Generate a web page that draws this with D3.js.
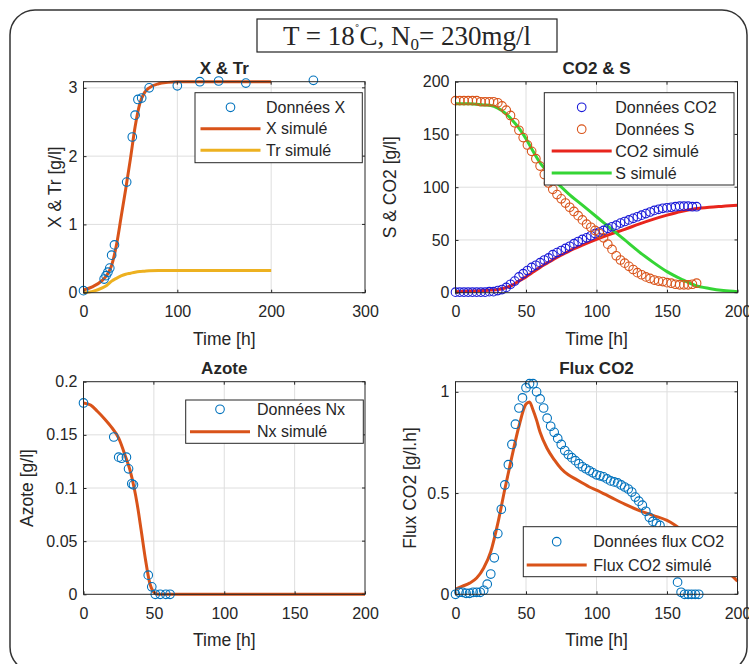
<!DOCTYPE html>
<html>
<head>
<meta charset="utf-8">
<script src="https://cdn.jsdelivr.net/npm/d3@7"></script>
<style>
  body { margin: 0; background: #fff; }
  svg text { font-family: "Liberation Sans", Arial, sans-serif; fill: #262626; }
</style>
</head>
<body>
<div id="chart"></div>
<script>
// ---- X & Tr ----
const xTime = [0, 22, 24, 26, 28, 30, 33, 46, 52, 55, 58, 62, 70, 100, 124, 144, 173, 245];
const xData = [0.03, 0.2, 0.25, 0.3, 0.36, 0.55, 0.7, 1.62, 2.28, 2.6, 2.83, 2.85, 3.0, 3.03, 3.09, 3.1, 3.07, 3.11];
const xSimTime = [0, 10, 20, 25, 30, 35, 40, 45, 50, 55, 60, 65, 70, 80, 90, 100, 150, 200];
const xSim = [0.04, 0.09, 0.18, 0.26, 0.4, 0.69, 1.1, 1.52, 1.96, 2.43, 2.77, 2.93, 3.0, 3.06, 3.08, 3.09, 3.09, 3.09];
const trSim = [0, 0.02, 0.07, 0.11, 0.17, 0.21, 0.245, 0.27, 0.285, 0.3, 0.31, 0.315, 0.32, 0.325, 0.325, 0.325, 0.325, 0.325];

// ---- CO2 & S ----
const csTime = [0, 3, 6, 9, 12, 15, 18, 21, 24, 27, 30, 33, 36, 39, 42, 45, 48, 51, 54, 57,
  60, 63, 66, 69, 72, 75, 78, 81, 84, 87, 90, 93, 96, 99, 102, 105, 108, 111, 114, 117,
  120, 123, 126, 129, 132, 135, 138, 141, 144, 147, 150, 153, 156, 159, 162, 165, 168, 171];
const co2Data = [0.5, 0.5, 0.5, 0.5, 0.5, 0.5, 0.5, 0.5, 1, 1, 2, 3, 5, 8, 11, 15, 18, 21, 24, 26,
  28.5, 31, 33, 36, 38, 40, 42, 44, 46.5, 48.5, 50.5, 52, 54, 56, 57.5, 59, 61, 62.5, 64, 66,
  67.5, 69, 70.5, 72, 73.5, 75, 76.5, 78, 79, 80, 80.5, 81, 81.5, 82, 82, 82, 81.5, 81.5];
const sData = [182, 182, 182, 182, 182, 182, 181, 181, 181, 181, 180, 177, 173, 168, 161, 154, 147, 140, 134, 127,
  120, 112, 104, 98, 93, 89, 85, 81, 77, 73, 69, 65, 62, 59, 56, 52, 46, 41, 35, 31,
  28, 25, 22, 19, 17, 15, 13.5, 12, 11, 10.5, 9.5, 9, 8, 7.5, 7.5, 7.5, 8, 9];
const csSimTime = [0, 10, 20, 25, 30, 35, 40, 45, 50, 55, 60, 65, 70, 80, 90, 100, 110, 120, 130, 140, 150, 160, 170, 180, 190, 200];
const co2Sim = [1, 1.5, 2, 2.5, 3, 4.5, 7, 11, 15, 19.5, 24, 28, 32, 39, 45, 50.5, 55.5, 60, 65, 69.5, 73.5, 77, 79.5, 81, 82, 83];
const sSim = [179, 179, 178, 177.5, 175, 170.5, 164, 156, 146, 134, 123, 115, 107, 94, 83, 72, 61, 50, 39, 29, 20, 13, 7, 4, 2, 1];

// ---- Azote ----
const nxTime = [0, 21.5, 25, 27, 30.5, 32, 34.3, 35.5, 46, 48.5, 51, 54.5, 58.5, 61.5];
const nxData = [0.18, 0.148, 0.129, 0.128, 0.129, 0.118, 0.104, 0.103, 0.018, 0.007, 0, 0, 0, 0];
const nxSimTime = [0, 5, 10, 15, 20, 25, 30, 33, 36, 38, 41, 44, 47, 50, 53, 60, 100, 150, 200];
const nxSim = [0.18, 0.178, 0.172, 0.165, 0.157, 0.147, 0.129, 0.117, 0.1, 0.086, 0.06, 0.033, 0.011, 0.002, 0, 0, 0, 0, 0];

// ---- Flux CO2 ----
const fluxTime = [0, 2.5, 5, 7.5, 10, 12.5, 15, 17.5, 20, 22.5, 25, 27.5, 30, 32.5, 35, 37.5, 40, 42.5, 45, 47.5,
  50, 52.5, 55, 57.5, 60, 62.5, 65, 67.5, 70, 72.5, 75, 77.5, 80, 82.5, 85, 87.5, 90, 92.5, 95, 97.5,
  100, 102.5, 105, 107.5, 110, 112.5, 115, 117.5, 120, 122.5, 125, 127.5, 130, 132.5, 135, 137.5, 140, 142.5, 145, 147.5,
  150, 152.5, 155, 157.5, 160, 162.5, 165, 167.5, 170, 172.5];
const fluxData = [0, 0.01, 0.01, 0.005, 0.005, 0.01, 0.01, 0.01, 0.02, 0.05, 0.1, 0.18, 0.3, 0.42, 0.54, 0.64, 0.74, 0.84, 0.92, 0.97,
  1.02, 1.04, 1.04, 1.0, 0.965, 0.92, 0.87, 0.83, 0.8, 0.77, 0.74, 0.71, 0.69, 0.675, 0.66, 0.645, 0.63, 0.62, 0.61, 0.6,
  0.59, 0.585, 0.58, 0.57, 0.56, 0.555, 0.55, 0.54, 0.53, 0.52, 0.505, 0.48, 0.46, 0.44, 0.41, 0.38, 0.36, 0.35, 0.34, 0.3,
  0.24, 0.17, 0.11, 0.06, 0.01, 0, 0, 0, 0, 0];
const fluxSimTime = [0, 5, 10, 15, 20, 25, 30, 35, 40, 45, 50, 52.5, 55, 57.5, 60, 65, 70, 75, 80, 85, 90, 95, 100, 110, 120, 130, 140, 150, 155, 160, 170, 180, 190, 200];
const fluxSim = [0.025, 0.04, 0.055, 0.08, 0.13, 0.21, 0.35, 0.52, 0.68, 0.83, 0.94, 0.95, 0.91, 0.86, 0.8, 0.72, 0.665, 0.62, 0.59, 0.57, 0.55, 0.53, 0.515, 0.48, 0.445, 0.415, 0.39, 0.365, 0.345, 0.32, 0.26, 0.19, 0.13, 0.065];

const blue = "#0072BD", orange = "#D95319", yellow = "#EDB120";

const width = 749, height = 664;
const svg = d3.select("#chart").append("svg")
    .attr("width", width)
    .attr("height", height);

// rounded frame around the whole figure
svg.append("rect")
    .attr("x", 10).attr("y", 10)
    .attr("width", 737).attr("height", 662)
    .attr("rx", 25).attr("ry", 25)
    .attr("fill", "none")
    .attr("stroke", "#333")
    .attr("stroke-width", 1.5);

function drawPanel(p) {
    const g = svg.append("g");
    const x = d3.scaleLinear().domain(p.xDomain).range([p.left, p.right]);
    const y = d3.scaleLinear().domain(p.yDomain).range([p.bottom, p.top]);

    // grid
    g.selectAll(".gx").data(p.xTicks.slice(1, -1)).enter().append("line")
        .attr("x1", d => x(d)).attr("x2", d => x(d))
        .attr("y1", p.top).attr("y2", p.bottom)
        .attr("stroke", "#dedede").attr("stroke-width", 1);
    g.selectAll(".gy").data(p.yTicks.filter(d => d > p.yDomain[0] && d < p.yDomain[1])).enter().append("line")
        .attr("x1", p.left).attr("x2", p.right)
        .attr("y1", d => y(d)).attr("y2", d => y(d))
        .attr("stroke", "#dedede").attr("stroke-width", 1);

    // simulated lines
    p.lines.forEach(l => {
        const pts = l.t.map((t, i) => [t, l.v[i]]);
        g.append("path")
            .datum(pts)
            .attr("fill", "none")
            .attr("stroke", l.color)
            .attr("stroke-width", 3)
            .attr("stroke-linejoin", "round")
            .attr("d", d3.line().curve(d3.curveMonotoneX).x(d => x(d[0])).y(d => y(d[1])));
    });

    // data markers
    p.marks.forEach(m => {
        const pts = m.t.map((t, i) => [t, m.v[i]]);
        g.append("g").selectAll("circle").data(pts).enter().append("circle")
            .attr("cx", d => x(d[0]))
            .attr("cy", d => y(d[1]))
            .attr("r", 4.3)
            .attr("fill", "none")
            .attr("stroke", m.color)
            .attr("stroke-width", 1.1);
    });

    // axes
    const xAxis = g.append("g")
        .attr("transform", `translate(0,${p.bottom})`)
        .call(d3.axisBottom(x).tickValues(p.xTicks).tickSize(-3).tickPadding(13).tickFormat(d => String(d)));
    const yAxis = g.append("g")
        .attr("transform", `translate(${p.left},0)`)
        .call(d3.axisLeft(y).tickValues(p.yTicks).tickSize(-3).tickPadding(6).tickFormat(d => String(d)));
    [xAxis, yAxis].forEach(a => {
        a.select(".domain").remove();
        a.selectAll("line").attr("stroke", "#262626");
        a.selectAll("text").style("font-size", "16px").attr("fill", "#262626");
    });
    // mirrored ticks on top and right
    g.selectAll(".tt").data(p.xTicks).enter().append("line")
        .attr("x1", d => x(d)).attr("x2", d => x(d))
        .attr("y1", p.top).attr("y2", p.top + 3)
        .attr("stroke", "#262626");
    g.selectAll(".tr").data(p.yTicks).enter().append("line")
        .attr("x1", p.right).attr("x2", p.right - 3)
        .attr("y1", d => y(d)).attr("y2", d => y(d))
        .attr("stroke", "#262626");

    // box
    g.append("rect")
        .attr("x", p.left).attr("y", p.top)
        .attr("width", p.right - p.left).attr("height", p.bottom - p.top)
        .attr("fill", "none").attr("stroke", "#262626").attr("stroke-width", 1);

    // title and labels
    g.append("text")
        .attr("x", (p.left + p.right) / 2).attr("y", p.top - 8)
        .attr("text-anchor", "middle")
        .style("font-size", "17px").style("font-weight", "bold")
        .attr("fill", "#000")
        .text(p.title);
    g.append("text")
        .attr("x", (p.left + p.right) / 2).attr("y", p.bottom + 52)
        .attr("text-anchor", "middle")
        .style("font-size", "17.5px")
        .text("Time [h]");
    g.append("text")
        .attr("transform", `translate(${p.yLabelX},${(p.top + p.bottom) / 2}) rotate(-90)`)
        .attr("text-anchor", "middle")
        .attr("dy", "0.35em")
        .style("font-size", "17.5px")
        .text(p.yLabel);

    // legend
    const lg = p.legend;
    const lgG = g.append("g");
    lgG.append("rect")
        .attr("x", lg.x).attr("y", lg.y)
        .attr("width", lg.w).attr("height", lg.h)
        .attr("fill", "#fff").attr("stroke", "#262626").attr("stroke-width", 1);
    lg.items.forEach((it, i) => {
        const cy = lg.y + lg.first + i * lg.step;
        if (it.type === "circle") {
            lgG.append("circle")
                .attr("cx", lg.x + lg.symX).attr("cy", cy).attr("r", 4.3)
                .attr("fill", "none").attr("stroke", it.color).attr("stroke-width", 1.1);
        } else {
            lgG.append("line")
                .attr("x1", lg.x + lg.symX - 30).attr("x2", lg.x + lg.symX + 30)
                .attr("y1", cy).attr("y2", cy)
                .attr("stroke", it.color).attr("stroke-width", 3);
        }
        lgG.append("text")
            .attr("x", lg.x + lg.textX).attr("y", cy)
            .attr("dy", "0.35em")
            .style("font-size", "16px")
            .attr("fill", "#000")
            .text(it.label);
    });
}

const colL = [83.5, 365], colR = [455.5, 737.5];
const rowT = [81.7, 292.7], rowB = [381.7, 594.3];

drawPanel({
    title: "X & Tr", yLabel: "X & Tr [g/l]", yLabelX: 55,
    left: colL[0], right: colL[1], top: rowT[0], bottom: rowT[1],
    xDomain: [0, 300], yDomain: [0, 3.09],
    xTicks: [0, 100, 200, 300], yTicks: [0, 1, 2, 3],
    lines: [{ t: xSimTime, v: xSim, color: orange }, { t: xSimTime, v: trSim, color: yellow }],
    marks: [{ t: xTime, v: xData, color: blue }],
    legend: { x: 195, y: 92.7, w: 167.3, h: 70, first: 14.6, step: 21.5, symX: 35.5, textX: 71,
        items: [{ type: "circle", color: blue, label: "Données X" },
                { type: "line", color: orange, label: "X simulé" },
                { type: "line", color: yellow, label: "Tr simulé" }] }
});

drawPanel({
    title: "CO2 & S", yLabel: "S & CO2 [g/l]", yLabelX: 390,
    left: colR[0], right: colR[1], top: rowT[0], bottom: rowT[1],
    xDomain: [0, 200], yDomain: [0, 200],
    xTicks: [0, 50, 100, 150, 200], yTicks: [0, 50, 100, 150, 200],
    lines: [{ t: csSimTime, v: co2Sim, color: "#e8251d" }, { t: csSimTime, v: sSim, color: "#35d535" }],
    marks: [{ t: csTime, v: co2Data, color: "#1a1ad8" }, { t: csTime, v: sData, color: orange }],
    legend: { x: 544.3, y: 92.7, w: 189.7, h: 92.3, first: 14.6, step: 21.9, symX: 37.4, textX: 71,
        items: [{ type: "circle", color: "#1a1ad8", label: "Données CO2" },
                { type: "circle", color: orange, label: "Données S" },
                { type: "line", color: "#e8251d", label: "CO2 simulé" },
                { type: "line", color: "#35d535", label: "S simulé" }] }
});

drawPanel({
    title: "Azote", yLabel: "Azote [g/l]", yLabelX: 27,
    left: colL[0], right: colL[1], top: rowB[0], bottom: rowB[1],
    xDomain: [0, 200], yDomain: [0, 0.2],
    xTicks: [0, 50, 100, 150, 200], yTicks: [0, 0.05, 0.1, 0.15, 0.2],
    lines: [{ t: nxSimTime, v: nxSim, color: orange }],
    marks: [{ t: nxTime, v: nxData, color: blue }],
    legend: { x: 185.7, y: 400, w: 177.6, h: 43.3, first: 9.3, step: 22.4, symX: 34.3, textX: 71.3,
        items: [{ type: "circle", color: blue, label: "Données Nx" },
                { type: "line", color: orange, label: "Nx simulé" }] }
});

drawPanel({
    title: "Flux CO2", yLabel: "Flux CO2 [g/l.h]", yLabelX: 410,
    left: colR[0], right: colR[1], top: rowB[0], bottom: rowB[1],
    xDomain: [0, 200], yDomain: [0, 1.05],
    xTicks: [0, 50, 100, 150, 200], yTicks: [0, 0.5, 1],
    lines: [{ t: fluxSimTime, v: fluxSim, color: orange }],
    marks: [{ t: fluxTime, v: fluxData, color: blue }],
    legend: { x: 523.3, y: 526.7, w: 214, h: 50, first: 15, step: 23.3, symX: 33.4, textX: 70,
        items: [{ type: "circle", color: blue, label: "Données flux CO2" },
                { type: "line", color: orange, label: "Flux CO2 simulé" }] }
});

// heading box
const head = svg.append("g");
head.append("rect")
    .attr("x", 257).attr("y", 19)
    .attr("width", 300).attr("height", 33)
    .attr("fill", "#fff").attr("stroke", "#222").attr("stroke-width", 1.2);
const ht = head.append("text")
    .attr("x", 407).attr("y", 45)
    .attr("text-anchor", "middle")
    .style("font-family", "'Liberation Serif', 'Times New Roman', serif")
    .style("font-size", "27px")
    .attr("fill", "#000");
ht.append("tspan").text("T = 18");
ht.append("tspan").attr("dy", -10).style("font-size", "14px").text("˚");
ht.append("tspan").attr("dy", 10).text("C, N");
ht.append("tspan").attr("dy", 5).style("font-size", "17px").text("0");
ht.append("tspan").attr("dy", -5).text("= 230mg/l");
</script>
</body>
</html>
